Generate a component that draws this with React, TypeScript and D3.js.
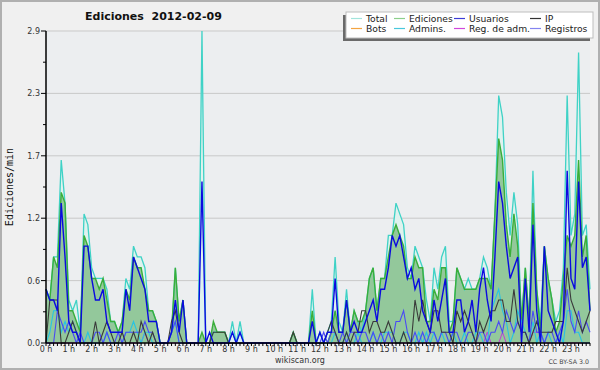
import React from 'react';
import * as d3 from 'd3';

// Edits per 10-minute slot (144 slots, 00:00 .. 23:50); rate = count / 10 per minute
const totalEdits = [
  5,4,8,8,17,13, 4,3,4,1,12,11, 7,6,6,6,5,2, 2,1,2,6,5,9,
  8,8,7,3,3,2, 0,0,0,1,7,2, 4,0,0,0,0,29, 0,0,1,1,1,1,
  0,2,0,2,0,0, 0,0,0,0,0,0, 0,0,0,0,0,1, 0,0,0,0,5,0,
  1,0,1,2,8,2, 1,5,1,3,2,1, 3,6,7,3,6,6, 10,10,13,12,11,7,
  6,9,8,7,4,2, 7,5,8,9,2,2, 7,6,5,6,5,5, 6,8,7,5,12,23,
  21,14,10,14,11,2, 7,2,16,5,2,9, 6,4,2,3,7,23, 10,12,27,10,11,5,
];
const articleEdits = [
  5,4,8,7,14,13, 3,3,2,1,10,9, 6,6,5,6,4,2, 2,1,2,5,4,8,
  7,7,5,3,3,2, 0,0,0,1,7,2, 4,0,0,0,0,1, 0,0,2,1,1,1,
  0,0,0,0,0,0, 0,0,0,0,0,0, 0,0,0,0,0,1, 0,0,0,0,3,0,
  0,0,0,1,3,1, 1,4,1,3,2,2, 3,6,7,3,6,6, 8,10,11,10,9,6,
  6,8,7,7,2,2, 5,4,7,7,1,2, 7,6,5,5,5,5, 6,6,6,5,12,19,
  17,11,8,12,9,2, 7,2,13,5,1,9, 6,4,1,2,6,10, 9,10,17,8,10,3,
];
const userEdits = [
  5,4,4,3,13,8, 2,1,1,0,9,9, 6,4,4,5,2,1, 1,1,1,5,3,8,
  7,6,5,2,2,2, 0,0,0,1,4,1, 4,0,0,0,0,15, 0,1,0,0,0,0,
  0,1,0,1,0,0, 0,0,0,0,0,0, 0,0,0,0,0,0, 0,0,0,0,2,0,
  1,0,1,1,6,1, 1,4,1,2,1,1, 2,3,4,2,5,5, 7,10,9,10,8,6,
  7,5,6,3,2,1, 4,2,4,6,1,1, 4,4,1,2,4,1, 5,7,4,2,8,15,
  13,9,6,7,8,0, 6,1,11,3,0,9, 3,2,1,0,2,16, 6,5,15,7,8,3,
];
const ipEdits = [
  0,4,4,4,0,0, 1,2,1,0,0,0, 0,2,0,1,2,1, 0,0,1,0,0,1,
  0,2,1,0,1,0, 0,0,0,2,3,1, 0,0,0,0,0,0, 0,0,1,1,1,1,
  0,0,0,0,0,0, 0,0,0,0,0,0, 0,0,0,0,0,1, 0,0,0,0,0,0,
  0,0,1,2,1,0, 0,1,0,1,1,3, 3,1,2,2,1,1, 2,1,0,0,1,0,
  0,4,2,4,2,1, 3,3,1,1,1,0, 3,2,3,2,1,0, 2,1,2,3,3,4,
  4,2,2,5,2,1, 1,0,1,2,1,1, 1,1,2,2,2,7, 4,3,2,1,2,3,
];
const adminEdits = [
  0,1,3,3,1,2, 1,2,1,0,0,1, 0,0,0,0,1,0, 0,0,0,1,1,2,
  1,0,1,1,0,0, 0,0,0,1,2,0, 0,0,0,0,0,0, 0,0,0,0,0,0,
  0,1,0,1,0,0, 0,0,0,0,0,0, 0,0,0,0,0,0, 0,0,0,0,0,0,
  0,0,0,0,1,0, 0,1,0,0,1,0, 0,0,1,0,0,1, 1,1,0,0,1,1,
  0,0,1,0,1,0, 1,0,1,0,0,1, 0,0,1,0,0,1, 1,0,0,3,4,5,
  3,2,0,1,3,2, 1,0,2,0,1,0, 1,0,0,1,0,3, 3,1,1,0,0,0,
];
const registrations = [
  0,0,0,3,2,1, 2,1,0,1,0,0, 0,1,1,0,1,0, 0,1,0,1,1,1,
  1,1,2,1,1,0, 0,0,0,1,2,0, 0,0,0,0,0,0, 0,0,0,0,0,0,
  0,0,0,0,0,0, 0,0,0,0,0,0, 0,0,0,0,0,0, 0,0,0,0,0,0,
  0,1,0,1,1,0, 1,0,1,1,0,1, 1,0,1,0,1,0, 1,0,2,2,3,1,
  0,1,0,1,0,1, 1,0,1,1,0,1, 1,0,0,1,1,0, 1,1,0,1,1,2,
  1,3,2,1,2,1, 1,0,3,1,1,0, 1,1,0,1,2,5, 2,1,3,1,2,1,
];
const adminRegs = [
  0,0,0,0,0,0, 0,0,0,0,0,0, 0,0,0,0,0,0, 0,0,0,0,0,0,
  0,0,1,0,0,0, 0,0,0,0,0,0, 0,0,0,0,0,0, 0,0,0,0,0,0,
  0,0,0,0,0,0, 0,0,0,0,0,0, 0,0,0,0,0,0, 0,0,0,0,0,0,
  0,0,0,0,0,0, 0,0,0,0,0,0, 0,0,0,0,0,0, 0,0,0,0,0,0,
  0,0,0,0,0,0, 0,0,0,0,0,0, 0,0,0,0,0,0, 0,0,1,0,0,0,
  1,0,0,0,0,0, 0,0,1,1,1,0, 0,0,0,0,0,0, 0,0,0,0,0,0,
];

const hourLabels = [
  '0 h','1 h','2 h','3 h','4 h','5 h','6 h','7 h','8 h','9 h','10 h','11 h',
  '12 h','13 h','14 h','15 h','16 h','17 h','18 h','19 h','20 h','21 h','22 h','23 h',
];
const yTicks = [0, 0.58, 1.16, 1.74, 2.32, 2.9];
const yTickLabels = ['0.0', '0.6', '1.2', '1.7', '2.3', '2.9'];
const yMinorTicks = [0.29, 0.87, 1.45, 2.03, 2.61];
const yMax = 2.9;

const legendLabels = ['Total', 'Ediciones', 'Usuarios', 'IP', 'Bots', 'Admins.', 'Reg. de adm.', 'Registros'];
const legendColors = ['#a2e4dc', '#8ccf8c', '#3c3cd8', '#333333', '#f4a442', '#48c8dc', '#d048dc', '#8484f0'];

const FONT = '"DejaVu Sans", sans-serif';

export default function App() {
  const W = 600, H = 370;
  const L = 46, R = 590, T = 31, B = 343;
  const n = totalEdits.length;
  const x = d3.scaleLinear().domain([0, n - 1]).range([L, R]);
  const y = d3.scaleLinear().domain([0, yMax]).range([B, T]);
  const rate = (a: number[]) => a.map((v) => v / 10);

  const area = d3.area<number>().x((_, i) => x(i)).y0(y(0)).y1((d) => y(d));
  const line = d3.line<number>().x((_, i) => x(i)).y((d) => y(d));

  const lines = [
    { data: rate(totalEdits), color: '#3fd2c6', w: 1.3 },
    { data: rate(articleEdits), color: '#3aae3a', w: 1.4 },
    { data: rate(adminRegs), color: '#c43ad4', w: 1 },
    { data: rate(adminEdits), color: '#28c4e2', w: 1.1 },
    { data: rate(registrations), color: '#4a4af4', w: 1.1 },
    { data: rate(ipEdits), color: '#3a3a3a', w: 1.1 },
    { data: rate(userEdits), color: '#0a0ae0', w: 1.4 },
  ];

  const minorX = d3.range(n);
  const hourIdx = hourLabels.map((_, h) => h * 6);

  const legX = [366, 409, 469, 545];
  const legY = [22, 32];

  return (
    <svg width={W} height={H} style={{ position: 'absolute', left: 0, top: 0, background: '#f0f0f0' }}>
      <rect x={1} y={1} width={W - 2} height={H - 2} fill="#f0f0f0" stroke="#b0b0b0" strokeWidth={2} />
      <rect x={L} y={T} width={R - L} height={B - T} fill="#eceef0" />
      {yTicks.slice(1).map((t) => (
        <line key={'g' + t} x1={L} x2={R} y1={y(t)} y2={y(t)} stroke="#c9c9c9" strokeWidth={1} />
      ))}
      <path d={area(rate(totalEdits)) || ''} fill="#dff2ee" />
      <path d={area(rate(articleEdits)) || ''} fill="#93c89b" />
      {lines.map((l, k) => (
        <path key={k} d={line(l.data) || ''} fill="none" stroke={l.color} strokeWidth={l.w} strokeLinejoin="miter" />
      ))}
      {/* y axis */}
      <line x1={L} x2={L} y1={T} y2={B} stroke="#000" strokeWidth={1.5} />
      {yTicks.map((t, k) => (
        <g key={'yt' + k}>
          <line x1={L - 5} x2={L} y1={y(t)} y2={y(t)} stroke="#000" />
          <text x={L - 6} y={y(t) + 3} textAnchor="end" fontFamily={FONT} fontSize={8} fill="#333">{yTickLabels[k]}</text>
        </g>
      ))}
      {yMinorTicks.map((t) => (
        <line key={'ym' + t} x1={L - 3} x2={L} y1={y(t)} y2={y(t)} stroke="#000" />
      ))}
      {/* x axis */}
      <line x1={L} x2={R} y1={B} y2={B} stroke="#000" strokeWidth={1.5} />
      {minorX.map((i) => (
        <line key={'xm' + i} x1={x(i)} x2={x(i)} y1={B} y2={B + 3} stroke="#000" strokeWidth={1} />
      ))}
      {hourIdx.map((i, h) => (
        <text key={'xl' + h} x={x(i)} y={352} textAnchor="middle" fontFamily={FONT} fontSize={8} fill="#333">{hourLabels[h]}</text>
      ))}
      {/* titles */}
      <text x={85} y={20} fontFamily={FONT} fontWeight="bold" fontSize={11} fill="#111" style={{ whiteSpace: 'pre' }}>{'Ediciones  2012-02-09'}</text>
      <text transform={`translate(13,${(T + B) / 2}) rotate(-90)`} textAnchor="middle" fontFamily='"DejaVu Sans Mono", monospace' fontSize={10} fill="#111">Ediciones/min</text>
      <text x={300} y={363} textAnchor="middle" fontFamily={FONT} fontSize={8} fill="#333">wikiscan.org</text>
      <text x={589} y={364} textAnchor="end" fontFamily={FONT} fontSize={6.3} fill="#444">CC BY-SA 3.0</text>
      {/* legend */}
      <rect x={343} y={15} width={247} height={26} fill="#6a6a6a" />
      <rect x={346} y={12} width={247} height={26} fill="#ffffff" stroke="#bdbdbd" strokeWidth={1} />
      {legendLabels.map((lab, k) => {
        const col = k % 4, row = Math.floor(k / 4);
        const tx = legX[col];
        const ty = legY[row];
        return (
          <g key={'lg' + k}>
            <line x1={tx - 15} x2={tx - 4} y1={ty - 3.5} y2={ty - 3.5} stroke={legendColors[k]} strokeWidth={1.2} />
            <text x={tx} y={ty} fontFamily={FONT} fontSize={9.2} fill="#222">{lab}</text>
          </g>
        );
      })}
    </svg>
  );
}
